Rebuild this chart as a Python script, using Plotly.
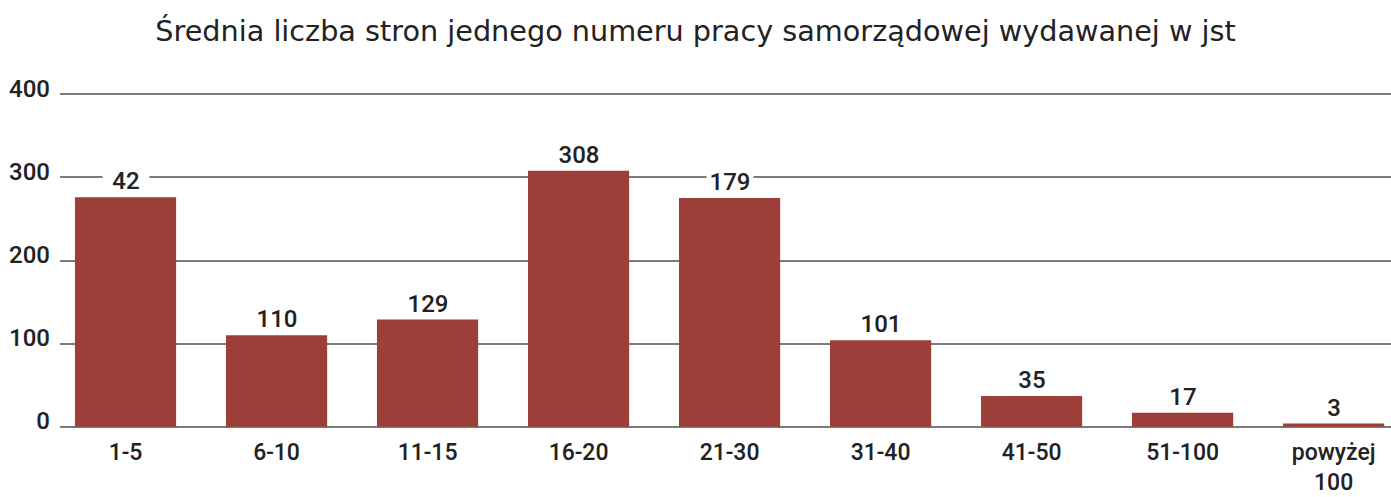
import plotly.graph_objects as go

categories = ["1-5", "6-10", "11-15", "16-20", "21-30", "31-40", "41-50", "51-100", "powyżej<br>100"]
bar_values = [276, 110, 129, 308, 275, 104, 37, 17, 4]
label_texts = ["42", "110", "129", "308", "179", "101", "35", "17", "3"]
y_ticks = [0, 100, 200, 300, 400]

FONT = "Roboto Medium, Roboto"
TFONT = "DejaVu Sans"
TXT = "#222222"
BAR = "#9C3F38"

fig = go.Figure()
fig.add_trace(go.Bar(
    x=categories, y=bar_values, marker=dict(color=BAR, line=dict(width=0)),
    hoverinfo="skip",
))

for c, v, t in zip(categories, bar_values, label_texts):
    fig.add_annotation(
        x=c, y=v, text=t, showarrow=False, yanchor="bottom", yshift=1,
        bgcolor="white", width=46, borderpad=0,
        font=dict(family=FONT, size=24, color=TXT),
    )

fig.update_layout(
    width=1391, height=497,
    margin=dict(l=60, r=0, t=90, b=66),
    plot_bgcolor="white", paper_bgcolor="white",
    bargap=0.33,
    showlegend=False,
    title=dict(
        text="Średnia liczba stron jednego numeru pracy samorządowej wydawanej w jst",
        x=0.5, xanchor="center", y=0.937, yanchor="middle",
        font=dict(family=TFONT, size=28.7, color=TXT),
    ),
    font=dict(family=FONT, size=24, color=TXT),
    xaxis=dict(
        type="category", range=[-0.434, 8.38], showgrid=False, showline=False,
        ticks="", ticklabelstandoff=5, automargin=False,
        tickfont=dict(family=FONT, size=23, color=TXT),
    ),
    yaxis=dict(
        range=[-5, 405], tickvals=y_ticks, showgrid=True, gridcolor="#7a7a7a",
        gridwidth=1.5, zeroline=False, showline=False, ticks="",
        ticklabelshift=-6, ticklabelstandoff=9, automargin=False,
        tickfont=dict(family=FONT, size=24, color=TXT),
    ),
)

fig.write_html(
    "out.html",
    config={"displayModeBar": False},
    post_script="document.body.style.margin='0';document.body.style.overflow='hidden';",
)
